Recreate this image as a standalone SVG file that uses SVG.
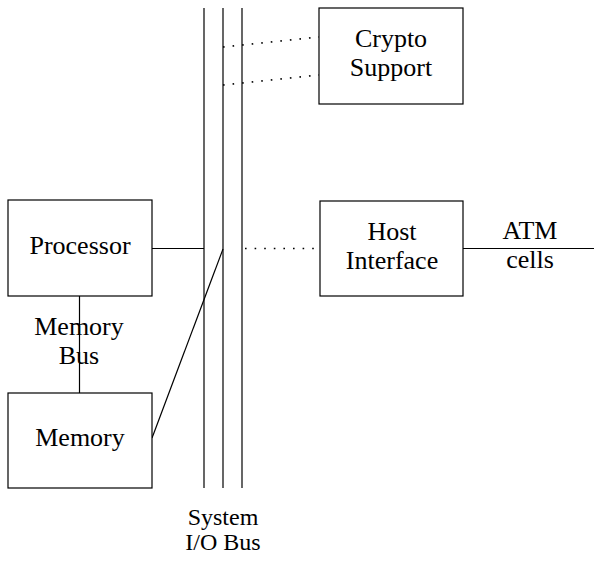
<svg xmlns="http://www.w3.org/2000/svg" width="594" height="561" viewBox="0 0 594 561">
<style>
.box{fill:#fff;stroke:#000;stroke-width:1.2}
.ln{fill:none;stroke:#000;stroke-width:1.2}
.dot{fill:none;stroke:#000;stroke-width:1.6;stroke-dasharray:1.6 8}
text{font-family:"Liberation Serif","Times New Roman",serif;font-size:26px;text-anchor:middle;fill:#000}
.sm{font-size:24px}
</style>
<rect width="594" height="561" fill="#fff"/>
<g id="connectors">
<line class="ln" x1="204" y1="8" x2="204" y2="488"/>
<line class="ln" x1="223" y1="8" x2="223" y2="488"/>
<line class="ln" x1="242" y1="8" x2="242" y2="488"/>
<line class="dot" x1="223" y1="47" x2="319" y2="37"/>
<line class="dot" x1="223" y1="85" x2="319" y2="75"/>
<line class="dot" x1="245" y1="248.5" x2="319" y2="248.5"/>
<line class="ln" x1="152" y1="248.5" x2="204" y2="248.5"/>
<line class="ln" x1="223" y1="249" x2="152" y2="438"/>
<line class="ln" x1="79.5" y1="296" x2="79.5" y2="393"/>
<line class="ln" x1="463" y1="248.5" x2="594" y2="248.5"/>
<text x="79" y="335">Memory</text>
<text x="79" y="364">Bus</text>
<text x="530" y="239">ATM</text>
<text x="530" y="268">cells</text>
<text class="sm" x="223" y="525">System</text>
<text class="sm" x="223" y="550">I/O Bus</text>
</g>
<g id="crypto">
<rect class="box" x="319" y="8" width="144" height="96"/>
<text x="391" y="47">Crypto</text>
<text x="391" y="76">Support</text>
</g>
<g id="processor">
<rect class="box" x="8" y="200" width="144" height="96"/>
<text x="80" y="254">Processor</text>
</g>
<g id="memory">
<rect class="box" x="8" y="393" width="144" height="95"/>
<text x="80" y="446">Memory</text>
</g>
<g id="host">
<rect class="box" x="320" y="201" width="143" height="95"/>
<text x="392" y="240">Host</text>
<text x="392" y="269">Interface</text>
</g>
</svg>
